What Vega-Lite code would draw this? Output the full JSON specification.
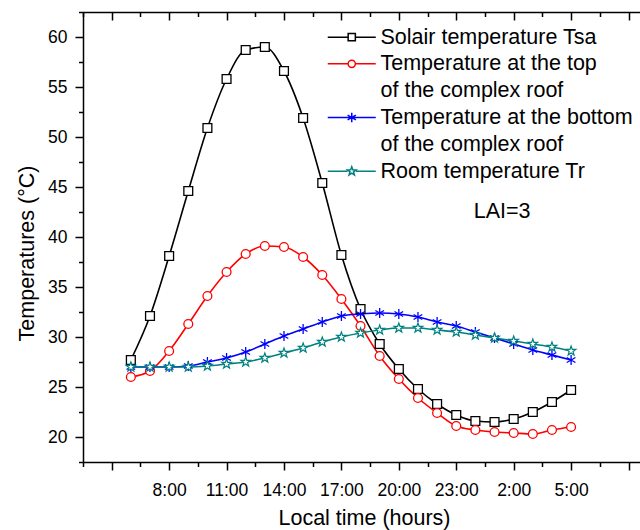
{
  "$schema": "https://vega.github.io/schema/vega-lite/v6.json",
  "width": 557,
  "height": 450,
  "autosize": {"type": "none"},
  "padding": {"left": 83, "top": 12, "right": 0, "bottom": 68},
  "background": "white",
  "config": {
    "view": {"stroke": null},
    "font": "Liberation Sans",
    "axis": {"domainColor": "black", "tickColor": "black", "labelColor": "black", "titleColor": "black", "grid": false, "labelFont": "Liberation Sans", "titleFont": "Liberation Sans", "titleFontWeight": "normal", "domainWidth": 1.5, "tickWidth": 1.5}
  },
  "datasets": {
    "temps": [
      {"series": "Tsa", "hour": 6, "temp": 27.7}, {"series": "Tsa", "hour": 7, "temp": 32.1}, {"series": "Tsa", "hour": 8, "temp": 38.1}, {"series": "Tsa", "hour": 9, "temp": 44.6},
      {"series": "Tsa", "hour": 10, "temp": 50.9}, {"series": "Tsa", "hour": 11, "temp": 55.8}, {"series": "Tsa", "hour": 12, "temp": 58.7}, {"series": "Tsa", "hour": 13, "temp": 59.0},
      {"series": "Tsa", "hour": 14, "temp": 56.6}, {"series": "Tsa", "hour": 15, "temp": 51.9}, {"series": "Tsa", "hour": 16, "temp": 45.4}, {"series": "Tsa", "hour": 17, "temp": 38.2},
      {"series": "Tsa", "hour": 18, "temp": 32.8}, {"series": "Tsa", "hour": 19, "temp": 29.3}, {"series": "Tsa", "hour": 20, "temp": 26.8}, {"series": "Tsa", "hour": 21, "temp": 24.8},
      {"series": "Tsa", "hour": 22, "temp": 23.3}, {"series": "Tsa", "hour": 23, "temp": 22.2}, {"series": "Tsa", "hour": 24, "temp": 21.6}, {"series": "Tsa", "hour": 25, "temp": 21.5},
      {"series": "Tsa", "hour": 26, "temp": 21.8}, {"series": "Tsa", "hour": 27, "temp": 22.5}, {"series": "Tsa", "hour": 28, "temp": 23.5}, {"series": "Tsa", "hour": 29, "temp": 24.7},
      {"series": "Top", "hour": 6, "temp": 26.0}, {"series": "Top", "hour": 7, "temp": 26.6}, {"series": "Top", "hour": 8, "temp": 28.6}, {"series": "Top", "hour": 9, "temp": 31.3},
      {"series": "Top", "hour": 10, "temp": 34.1}, {"series": "Top", "hour": 11, "temp": 36.5}, {"series": "Top", "hour": 12, "temp": 38.3}, {"series": "Top", "hour": 13, "temp": 39.1},
      {"series": "Top", "hour": 14, "temp": 39.0}, {"series": "Top", "hour": 15, "temp": 38.0}, {"series": "Top", "hour": 16, "temp": 36.2}, {"series": "Top", "hour": 17, "temp": 33.8},
      {"series": "Top", "hour": 18, "temp": 31.1}, {"series": "Top", "hour": 19, "temp": 28.1}, {"series": "Top", "hour": 20, "temp": 25.8}, {"series": "Top", "hour": 21, "temp": 23.9},
      {"series": "Top", "hour": 22, "temp": 22.4}, {"series": "Top", "hour": 23, "temp": 21.1}, {"series": "Top", "hour": 24, "temp": 20.7}, {"series": "Top", "hour": 25, "temp": 20.5},
      {"series": "Top", "hour": 26, "temp": 20.4}, {"series": "Top", "hour": 27, "temp": 20.3}, {"series": "Top", "hour": 28, "temp": 20.7}, {"series": "Top", "hour": 29, "temp": 21.0},
      {"series": "Bottom", "hour": 6, "temp": 27.0}, {"series": "Bottom", "hour": 7, "temp": 27.0}, {"series": "Bottom", "hour": 8, "temp": 27.0}, {"series": "Bottom", "hour": 9, "temp": 27.1},
      {"series": "Bottom", "hour": 10, "temp": 27.5}, {"series": "Bottom", "hour": 11, "temp": 27.9}, {"series": "Bottom", "hour": 12, "temp": 28.5}, {"series": "Bottom", "hour": 13, "temp": 29.3},
      {"series": "Bottom", "hour": 14, "temp": 30.1}, {"series": "Bottom", "hour": 15, "temp": 30.8}, {"series": "Bottom", "hour": 16, "temp": 31.5}, {"series": "Bottom", "hour": 17, "temp": 32.1},
      {"series": "Bottom", "hour": 18, "temp": 32.3}, {"series": "Bottom", "hour": 19, "temp": 32.4}, {"series": "Bottom", "hour": 20, "temp": 32.3}, {"series": "Bottom", "hour": 21, "temp": 32.0},
      {"series": "Bottom", "hour": 22, "temp": 31.5}, {"series": "Bottom", "hour": 23, "temp": 31.1}, {"series": "Bottom", "hour": 24, "temp": 30.5}, {"series": "Bottom", "hour": 25, "temp": 29.9},
      {"series": "Bottom", "hour": 26, "temp": 29.3}, {"series": "Bottom", "hour": 27, "temp": 28.7}, {"series": "Bottom", "hour": 28, "temp": 28.2}, {"series": "Bottom", "hour": 29, "temp": 27.7},
      {"series": "Tr", "hour": 6, "temp": 27.0}, {"series": "Tr", "hour": 7, "temp": 27.0}, {"series": "Tr", "hour": 8, "temp": 27.0}, {"series": "Tr", "hour": 9, "temp": 27.0},
      {"series": "Tr", "hour": 10, "temp": 27.1}, {"series": "Tr", "hour": 11, "temp": 27.3}, {"series": "Tr", "hour": 12, "temp": 27.5}, {"series": "Tr", "hour": 13, "temp": 27.9},
      {"series": "Tr", "hour": 14, "temp": 28.4}, {"series": "Tr", "hour": 15, "temp": 28.9}, {"series": "Tr", "hour": 16, "temp": 29.5}, {"series": "Tr", "hour": 17, "temp": 30.0},
      {"series": "Tr", "hour": 18, "temp": 30.4}, {"series": "Tr", "hour": 19, "temp": 30.7}, {"series": "Tr", "hour": 20, "temp": 30.9}, {"series": "Tr", "hour": 21, "temp": 30.9},
      {"series": "Tr", "hour": 22, "temp": 30.7}, {"series": "Tr", "hour": 23, "temp": 30.5}, {"series": "Tr", "hour": 24, "temp": 30.2}, {"series": "Tr", "hour": 25, "temp": 29.9},
      {"series": "Tr", "hour": 26, "temp": 29.6}, {"series": "Tr", "hour": 27, "temp": 29.3}, {"series": "Tr", "hour": 28, "temp": 29.0}, {"series": "Tr", "hour": 29, "temp": 28.6}
    ],
    "note": [{"hour": 25.4, "temp": 42.5, "label": "LAI=3"}]
  },
  "resolve": {"axis": {"x": "independent", "y": "independent"}, "legend": {"color": "independent"}},
  "layer": [
    {
      "data": {"name": "temps"},
      "mark": {"type": "line", "interpolate": "monotone", "strokeWidth": 1.6},
      "encoding": {
        "x": {"field": "hour", "type": "quantitative",
          "scale": {"domain": [3.5, 32.6], "nice": false, "zero": false},
          "axis": {"orient": "bottom", "values": [5, 8, 11, 14, 17, 20, 23, 26, 29, 32],
            "labelExpr": "(datum.value >= 8 && datum.value <= 29) ? (datum.value % 24) + ':00' : ''",
            "labelOverlap": false, "labelFlush": false, "labelFontSize": 17.5, "labelPadding": 11, "tickSize": 8,
            "title": "Local time (hours)", "titleFontSize": 21.5, "titleX": 281, "titleY": 62.5, "titleBaseline": "alphabetic", "titleAlign": "center"}},
        "y": {"field": "temp", "type": "quantitative",
          "scale": {"domain": [17.5, 62.5], "nice": false, "zero": false},
          "axis": {"orient": "left", "values": [20, 25, 30, 35, 40, 45, 50, 55, 60],
            "labelOverlap": false, "labelFlush": false, "labelFontSize": 17.5, "labelPadding": 8, "tickSize": 8,
            "title": "Temperatures (°C)", "titleFontSize": 21.5, "titleAngle": 270, "titleX": -50, "titleY": 241, "titleBaseline": "alphabetic", "titleAlign": "center"}},
        "color": {"field": "series", "type": "nominal", "legend": null,
          "scale": {"domain": ["Tsa", "Top", "Bottom", "Tr"], "range": ["#000000", "#ff0000", "#0000ff", "#008080"]}},
        "detail": {"field": "series"}
      }
    },
    {
      "data": {"name": "temps"},
      "transform": [{"filter": "datum.series == 'Tsa'"}],
      "mark": {"type": "point", "shape": "square", "filled": false, "fill": "white", "strokeWidth": 1.3, "size": 78, "opacity": 1},
      "encoding": {
        "x": {"field": "hour", "type": "quantitative",
          "axis": {"orient": "bottom", "values": [3.5, 6.5, 9.5, 12.5, 15.5, 18.5, 21.5, 24.5, 27.5, 30.5],
            "labels": false, "title": null, "domain": false, "tickSize": 4.5}},
        "y": {"field": "temp", "type": "quantitative",
          "axis": {"orient": "left", "values": [17.5, 22.5, 27.5, 32.5, 37.5, 42.5, 47.5, 52.5, 57.5, 62.5],
            "labels": false, "title": null, "domain": false, "tickSize": 4.5}},
        "color": {"field": "series", "type": "nominal",
          "legend": {"orient": "none", "legendX": 258, "legendY": 14.4, "title": null, "padding": 0,
            "labelFontSize": 21.5, "labelFont": "Liberation Sans", "labelColor": "black", "labelLimit": 400,
            "symbolSize": 144, "labelOffset": 18, "rowPadding": 4.7, "labelBaseline": "top",
            "labelExpr": "datum.value == 'Tsa' ? 'Solair temperature Tsa' : datum.value == 'Top' ? ['Temperature at the top', '\u00a0of the complex roof'] : datum.value == 'Bottom' ? ['Temperature at the bottom', '\u00a0of the complex roof'] : 'Room temperature Tr'",
            "encoding": {
              "symbols": {
                "shape": {"value": {"expr": "datum.value == 'Tsa' ? 'M-4,0H-0.6M0.6,0H4M-0.6,-0.6H0.6V0.6H-0.6Z' : datum.value == 'Top' ? 'M-4,0H-0.6M0.6,0H4M-0.6,0A0.6,0.6 0 1,0 0.6,0A0.6,0.6 0 1,0 -0.6,0Z' : datum.value == 'Bottom' ? 'M-4,0H4M0,-0.8V0.8M-0.69,-0.4L0.69,0.4M-0.69,0.4L0.69,-0.4' : 'M-4,0H-0.7M0.7,0H4M0,-0.75L0.18,-0.24L0.71,-0.23L0.29,0.09L0.44,0.61L0,0.3L-0.44,0.61L-0.29,0.09L-0.71,-0.23L-0.18,-0.24Z'"}},
                "fill": {"value": "white"}, "size": {"value": 144}, "strokeWidth": {"value": 1.5}, "opacity": {"value": 1}},
              "labels": {"dy": {"value": -10.5}, "lineHeight": {"value": 26.7}}
            }}}
      }
    },
    {
      "data": {"name": "temps"},
      "transform": [{"filter": "datum.series == 'Top'"}],
      "mark": {"type": "point", "shape": "circle", "filled": false, "fill": "white", "strokeWidth": 1.3, "size": 78, "opacity": 1},
      "encoding": {
        "x": {"field": "hour", "type": "quantitative",
          "axis": {"orient": "top", "values": [5, 8, 11, 14, 17, 20, 23, 26, 29, 32],
            "labels": false, "title": null, "domain": true, "tickSize": -8}},
        "y": {"field": "temp", "type": "quantitative", "axis": null},
        "color": {"field": "series", "type": "nominal", "legend": null}
      }
    },
    {
      "data": {"name": "temps"},
      "transform": [{"filter": "datum.series == 'Bottom'"}],
      "mark": {"type": "point", "shape": "M0,-1V1M-0.87,-0.5L0.87,0.5M-0.87,0.5L0.87,-0.5", "filled": false, "strokeWidth": 1.3, "size": 100, "opacity": 1},
      "encoding": {
        "x": {"field": "hour", "type": "quantitative",
          "axis": {"orient": "top", "values": [3.5, 6.5, 9.5, 12.5, 15.5, 18.5, 21.5, 24.5, 27.5, 30.5],
            "labels": false, "title": null, "domain": false, "tickSize": -4.5}},
        "y": {"field": "temp", "type": "quantitative", "axis": null},
        "color": {"field": "series", "type": "nominal", "legend": null}
      }
    },
    {
      "data": {"name": "temps"},
      "transform": [{"filter": "datum.series == 'Tr'"}],
      "mark": {"type": "point", "shape": "M0,-1L0.24,-0.32L0.95,-0.31L0.38,0.12L0.59,0.81L0,0.4L-0.59,0.81L-0.38,0.12L-0.95,-0.31L-0.24,-0.32Z", "filled": false, "fill": "white", "strokeWidth": 1.2, "size": 100, "opacity": 1},
      "encoding": {
        "x": {"field": "hour", "type": "quantitative", "axis": null},
        "y": {"field": "temp", "type": "quantitative", "axis": null},
        "color": {"field": "series", "type": "nominal", "legend": null}
      }
    },
    {
      "data": {"name": "note"},
      "mark": {"type": "text", "fontSize": 21.5, "font": "Liberation Sans", "color": "black", "align": "center", "baseline": "middle"},
      "encoding": {
        "x": {"field": "hour", "type": "quantitative", "axis": null},
        "y": {"field": "temp", "type": "quantitative", "axis": null},
        "text": {"field": "label"}
      }
    }
  ]
}
